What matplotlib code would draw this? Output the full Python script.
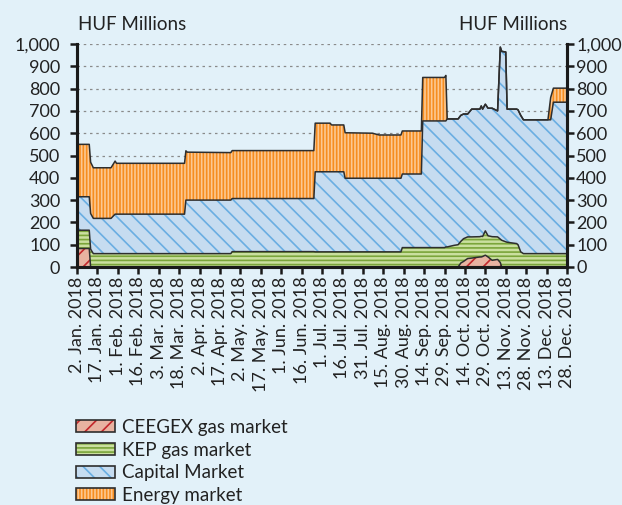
import numpy as np
import pandas as pd
import matplotlib
matplotlib.use("Agg")
import matplotlib.pyplot as plt
from matplotlib.patches import Patch

# days counted from 2 Jan 2018 (breakpoints)
days = [0, 1, 9, 10, 12, 25, 28, 29, 79, 80, 81, 113, 114, 174, 175, 186, 187, 196, 197, 217,
        222, 238, 239, 253, 254, 270, 271, 272, 277, 280, 282, 284, 287, 290, 296, 297, 298, 300,
        302, 305, 309, 311, 312, 315, 316, 323, 324, 326, 328, 346, 348, 350, 360]

ceegex = [80, 83, 83, 0, 0, 0, 0, 0, 0, 0, 0, 0, 0, 0, 0, 0, 0, 0, 0, 0,
          0, 0, 0, 0, 0, 0, 0, 0, 0, 0, 18, 25, 38, 40, 45, 45, 47, 53,
          45, 30, 34, 20, 0, 0, 0, 0, 0, 0, 0, 0, 0, 0, 0]
kep = [85, 82, 82, 80, 60, 60, 60, 60, 60, 60, 60, 60, 69, 69, 68, 68, 68, 68, 68, 68,
       68, 68, 87, 87, 87, 87, 90, 90, 97, 100, 97, 102, 97, 95, 91, 93, 90, 109,
       95, 106, 101, 105, 120, 113, 111, 105, 100, 68, 60, 60, 60, 60, 60]
capital = [135, 150, 150, 160, 158, 158, 177, 177, 177, 240, 240, 240, 238, 238, 359, 359, 359, 359, 330, 330,
           330, 330, 330, 330, 568, 568, 565, 574, 567, 564, 565, 559, 551, 573, 572, 584, 571, 568,
           572, 576, 565, 861, 847, 851, 597, 603, 605, 612, 600, 600, 600, 679, 679]
energy = [220, 235, 235, 230, 227, 227, 238, 228, 228, 221, 215, 213, 215, 215, 218, 218, 210, 210, 204, 202,
          194, 194, 193, 193, 195, 195, 204, 0, 0, 0, 0, 0, 0, 0, 0, 0, 0, 0,
          0, 0, 0, 0, 0, 0, 0, 0, 0, 0, 0, 0, 100, 63, 63]

labels = ["CEEGEX gas market", "KEP gas market", "Capital Market", "Energy market"]
faces = ["#e8b3a1", "#cadf9f", "#c6dcf0", "#f68d1f"]
hatch_cols = ["#c3282c", "#7ba53a", "#6aaee2", "#fcc892"]
hatches = ["//", "----", "\\\\", "|||||"]

start = pd.Timestamp("2018-01-02")
x = start + pd.to_timedelta(days, unit="D")

bg = "#e2f1f9"
txt = "#222222"
plt.rcParams["font.family"] = ["Lato", "DejaVu Sans"]
plt.rcParams["hatch.linewidth"] = 1.2

fig = plt.figure(figsize=(6.22, 5.05), dpi=100, facecolor=bg)
ax = fig.add_axes([77 / 622, 1 - 267 / 505, 490 / 622, 223 / 505], facecolor=bg)

for yv in range(100, 1001, 100):
    ax.axhline(yv, color="#8a8a8a", lw=0.9, ls=(0, (2, 3)), zorder=0)

series = [np.array(ceegex), np.array(kep), np.array(capital), np.array(energy)]
base = np.zeros(len(days))
tops = []
for s, fc, hc, h in zip(series, faces, hatch_cols, hatches):
    top = base + s
    ax.fill_between(x, base, top, facecolor=fc, edgecolor=hc, hatch=h, lw=0, zorder=1)
    tops.append(top)
    base = top
for top in tops:
    ax.plot(x, top, color="#2e2e2e", lw=1.1, zorder=2)

yt = list(range(0, 1001, 100))
ytl = [f"{v:,}" for v in yt]
ax.set_ylim(0, 1000)
ax.set_xlim(start, start + pd.Timedelta(days=360))
ax.set_yticks(yt)
ax.set_yticklabels(ytl)
tick_dates = [start + pd.Timedelta(days=15 * i) for i in range(25)]
ax.set_xticks(tick_dates)
ax.set_xticklabels([f"{d.day}. {d.strftime('%b')}. {d.year}" for d in tick_dates], rotation=90)

ax2 = ax.twinx()
ax2.set_ylim(0, 1000)
ax2.set_yticks(yt)
ax2.set_yticklabels(ytl)

for a in (ax, ax2):
    for side in ["left", "right", "bottom"]:
        a.spines[side].set_linewidth(2.2)
        a.spines[side].set_color("#1a1a1a")
    a.spines["top"].set_visible(False)
ax.tick_params(axis="y", length=5, width=1.8, color="#1a1a1a", labelsize=13, labelcolor=txt, pad=7)
ax2.tick_params(axis="y", length=5, width=1.8, color="#1a1a1a", labelsize=13, labelcolor=txt, pad=1.5)
ax.tick_params(axis="x", length=5, width=1.8, color="#1a1a1a", labelsize=13, labelcolor=txt, pad=2)

fig.text(78 / 622, 1 - 25 / 505, "HUF Millions", fontsize=13.5, color=txt, ha="left", va="center")
fig.text(567 / 622, 1 - 25 / 505, "HUF Millions", fontsize=13.5, color=txt, ha="right", va="center")

handles = [Patch(facecolor=fc, edgecolor=hc, hatch=h, lw=0) for fc, hc, h in zip(faces, hatch_cols, hatches)]
leg = fig.legend(handles, labels, loc="upper left", bbox_to_anchor=(76 / 622, 1 - 419 / 505),
                 frameon=False, fontsize=13.5, handlelength=2.1, handleheight=0.6,
                 labelspacing=0.3, handletextpad=0.35, borderaxespad=0, borderpad=0)
for p, hc in zip(leg.get_patches(), hatch_cols):
    p.set_linewidth(1.2)
    p.set_edgecolor("#2e2e2e")
    p._hatch_color = matplotlib.colors.to_rgba(hc)
for t in leg.get_texts():
    t.set_color(txt)

fig.savefig("out.png", dpi=100, facecolor=bg)
